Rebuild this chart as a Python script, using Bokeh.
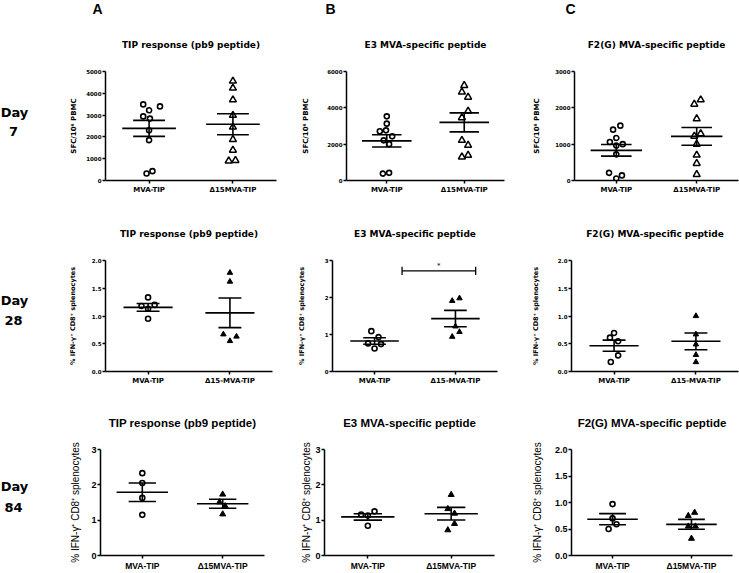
from bokeh.plotting import figure
from bokeh.models import Range1d, FixedTicker, Title, NumeralTickFormatter
from bokeh.layouts import row, column
from bokeh.embed import file_html
from bokeh.resources import INLINE
from bokeh.core.properties import value

# ---------------- data ----------------
col_letters = ["A", "B", "C"]
day_numbers = ["7", "28", "84"]
panel_titles = ["TIP response (pb9 peptide)", "E3 MVA-specific peptide", "F2(G) MVA-specific peptide"]
groups_d7 = ["MVA-TIP", "Δ15MVA-TIP"]
groups_d28 = ["MVA-TIP", "Δ15-MVA-TIP"]
groups_d84 = ["MVA-TIP", "Δ15MVA-TIP"]
ylabel_d7 = "SFC/10⁶ PBMC"
ylabel_pct = "% IFN-γ⁺ CD8⁺ splenocytes"

# Day 7 - SFC / 10^6 PBMC
d7A_mva = [3490, 3220, 3400, 2940, 2840, 2300, 1850, 320, 430]
d7A_mva_dx = [-0.07, 0.0, 0.13, -0.07, 0.01, 0.0, 0.0, -0.03, 0.04]
d7A_d15 = [4560, 4240, 3700, 2990, 2450, 1880, 1390, 900, 920]
d7A_d15_dx = [0.0, 0.0, 0.0, 0.0, 0.0, 0.0, 0.0, -0.05, 0.03]
d7A_mean = [2390, 2580]
d7A_sem = [366, 480]
d7A_yticks = [0, 1000, 2000, 3000, 4000, 5000]

d7B_mva = [3530, 3130, 2760, 2710, 2430, 2210, 2000, 380, 420]
d7B_mva_dx = [0.0, 0.0, -0.01, -0.09, 0.07, -0.04, 0.03, -0.05, 0.03]
d7B_d15 = [5230, 4870, 4590, 3820, 3460, 2210, 1940, 1300, 1390]
d7B_d15_dx = [0.0, -0.03, 0.05, 0.05, -0.03, -0.03, 0.05, -0.03, 0.05]
d7B_mean = [2180, 3200]
d7B_sem = [339, 521]
d7B_yticks = [0, 2000, 4000, 6000]

d7C_mva = [1510, 1400, 1170, 1060, 1000, 960, 720, 210, 140, 55]
d7C_mva_dx = [0.05, -0.04, 0.0, -0.08, 0.08, 0.0, 0.0, -0.09, 0.07, 0.0]
d7C_d15 = [2220, 2100, 1700, 1220, 1290, 1000, 700, 470, 165]
d7C_d15_dx = [0.05, -0.03, 0.0, -0.03, 0.05, 0.0, 0.0, 0.0, 0.0]
d7C_mean = [830, 1215]
d7C_sem = [160, 243]
d7C_yticks = [0, 1000, 2000, 3000]

# Day 28 - % IFN-g+ CD8+ splenocytes
d28A_mva = [1.335, 1.18, 1.20, 1.13, 0.95]
d28A_mva_dx = [0.0, -0.08, 0.08, 0.0, 0.0]
d28A_d15 = [1.78, 1.62, 0.67, 0.63, 0.55]
d28A_d15_dx = [0.0, 0.0, -0.08, 0.08, 0.0]
d28A_mean = [1.155, 1.057]
d28A_sem = [0.07, 0.266]
d28A_yticks = [0.0, 0.5, 1.0, 1.5, 2.0]

d28B_mva = [1.09, 0.93, 0.76, 0.74, 0.62]
d28B_mva_dx = [-0.04, 0.05, -0.08, 0.08, 0.0]
d28B_d15 = [1.91, 1.98, 1.22, 0.94, 1.07]
d28B_d15_dx = [-0.04, 0.05, 0.0, -0.04, 0.05]
d28B_mean = [0.825, 1.43]
d28B_sem = [0.089, 0.222]
d28B_yticks = [0, 1, 2, 3]
d28B_sig = "*"

d28C_mva = [0.695, 0.61, 0.545, 0.29, 0.17]
d28C_mva_dx = [0.0, -0.05, 0.05, 0.05, -0.04]
d28C_d15 = [1.0, 0.67, 0.49, 0.30, 0.17]
d28C_d15_dx = [0.0, 0.0, 0.0, 0.0, 0.0]
d28C_mean = [0.465, 0.544]
d28C_sem = [0.10, 0.151]
d28C_yticks = [0.0, 0.5, 1.0, 1.5, 2.0]

# Day 84 - % IFN-g+ CD8+ splenocytes
d84A_mva = [2.33, 2.05, 1.63, 1.15]
d84A_mva_dx = [0.0, 0.0, 0.0, 0.0]
d84A_d15 = [1.73, 1.51, 1.40, 1.17]
d84A_d15_dx = [0.0, -0.04, 0.03, 0.0]
d84A_mean = [1.79, 1.463]
d84A_sem = [0.262, 0.127]
d84A_yticks = [0, 1, 2, 3]

d84B_mva = [1.25, 1.16, 1.13, 0.84]
d84B_mva_dx = [0.08, -0.08, 0.0, 0.0]
d84B_d15 = [1.72, 1.32, 1.19, 0.90, 0.72]
d84B_d15_dx = [0.0, -0.04, 0.04, 0.04, -0.04]
d84B_mean = [1.092, 1.182]
d84B_sem = [0.09, 0.179]
d84B_yticks = [0, 1, 2, 3]

d84C_mva = [0.97, 0.70, 0.59, 0.50]
d84C_mva_dx = [0.0, 0.0, 0.05, -0.05]
d84C_d15 = [0.81, 0.75, 0.55, 0.55, 0.32]
d84C_d15_dx = [0.04, -0.04, -0.04, 0.05, 0.0]
d84C_mean = [0.685, 0.588]
d84C_sem = [0.106, 0.094]
d84C_yticks = [0.0, 0.5, 1.0, 1.5, 2.0]

# ---------------- panel table (built from the arrays) ----------------
panels = [
    [dict(g1=d7A_mva, dx1=d7A_mva_dx, g2=d7A_d15, dx2=d7A_d15_dx, mean=d7A_mean, sem=d7A_sem, yt=d7A_yticks, dec=False),
     dict(g1=d7B_mva, dx1=d7B_mva_dx, g2=d7B_d15, dx2=d7B_d15_dx, mean=d7B_mean, sem=d7B_sem, yt=d7B_yticks, dec=False),
     dict(g1=d7C_mva, dx1=d7C_mva_dx, g2=d7C_d15, dx2=d7C_d15_dx, mean=d7C_mean, sem=d7C_sem, yt=d7C_yticks, dec=False)],
    [dict(g1=d28A_mva, dx1=d28A_mva_dx, g2=d28A_d15, dx2=d28A_d15_dx, mean=d28A_mean, sem=d28A_sem, yt=d28A_yticks, dec=True),
     dict(g1=d28B_mva, dx1=d28B_mva_dx, g2=d28B_d15, dx2=d28B_d15_dx, mean=d28B_mean, sem=d28B_sem, yt=d28B_yticks, dec=False, sig=d28B_sig),
     dict(g1=d28C_mva, dx1=d28C_mva_dx, g2=d28C_d15, dx2=d28C_d15_dx, mean=d28C_mean, sem=d28C_sem, yt=d28C_yticks, dec=True)],
    [dict(g1=d84A_mva, dx1=d84A_mva_dx, g2=d84A_d15, dx2=d84A_d15_dx, mean=d84A_mean, sem=d84A_sem, yt=d84A_yticks, dec=False),
     dict(g1=d84B_mva, dx1=d84B_mva_dx, g2=d84B_d15, dx2=d84B_d15_dx, mean=d84B_mean, sem=d84B_sem, yt=d84B_yticks, dec=False),
     dict(g1=d84C_mva, dx1=d84C_mva_dx, g2=d84C_d15, dx2=d84C_d15_dx, mean=d84C_mean, sem=d84C_sem, yt=d84C_yticks, dec=True)],
]
row_groups = [groups_d7, groups_d28, groups_d84]
row_ylabels = [ylabel_d7, ylabel_pct, ylabel_pct]

# ---------------- layout & style (pixels) ----------------
DAY_W = 55
ROW_H = [205, 190, 178]
ROW_TB = [(71, 25), (55, 24), (54, 13)]        # top / bottom border of every frame in a row
# (width, left border, right border) per panel
LAYOUT = [
    [(244, 50, 23), (231, 40, 26), (209, 42, 1)],
    [(239, 50, 22), (234, 32, 31), (211, 40, 1)],
    [(239, 45, 30), (234, 30, 34), (211, 40, 7)],
]
TITLE_STANDOFF = [41, 42, 39]
LABEL_STANDOFF = [[5, 14, 11], [12, 16, 15], [7, 0, 9]]
LETTER_OFFSET = [-13, -21, -9]
DAY_TEXT_Y = [(112, 131), (95, 115), (93, 115)]
DAY_TEXT_X = (14, 13)

STY = [
    dict(font="DejaVu Sans", title="9px", ytick="5.5px", xtick="7px", ylab="7px", ylab_style="bold",
         circ=5, tri=7, tri_fill="white", mw=0.32, sw=0.19),
    dict(font="DejaVu Sans", title="9px", ytick="5.5px", xtick="7px", ylab="6.5px", ylab_style="bold",
         circ=5, tri=5.5, tri_fill="black", mw=0.30, sw=0.14),
    dict(font="Liberation Sans", title="11.5px", ytick="9px", xtick="8.5px", ylab="10px", ylab_style="normal",
         circ=5, tri=6, tri_fill="black", mw=0.32, sw=0.17),
]


def make_panel(ri, ci):
    spec = panels[ri][ci]
    w, bl, br = LAYOUT[ri][ci]
    bt, bb = ROW_TB[ri]
    s = STY[ri]
    p = figure(width=w, height=ROW_H[ri], x_range=Range1d(0.48, 2.52),
               y_range=Range1d(0, spec["yt"][-1]), title=None,
               output_backend="svg", toolbar_location=None,
               min_border_left=bl, min_border_right=br, min_border_top=bt, min_border_bottom=bb)
    p.grid.visible = False
    p.outline_line_color = None
    p.background_fill_color = "white"
    p.border_fill_color = "white"

    t = Title(text=panel_titles[ci], align="center", vertical_align="middle",
              standoff=TITLE_STANDOFF[ri], text_font=s["font"], text_font_size=s["title"],
              text_font_style="bold", text_color="black")
    p.add_layout(t, "above")
    if ri == 0:
        lt = Title(text=col_letters[ci], align="left", vertical_align="top", offset=LETTER_OFFSET[ci],
                   standoff=0, text_font="Liberation Sans", text_font_size="14px",
                   text_font_style="bold", text_color="black")
        p.add_layout(lt, "above")

    # data points
    p.scatter(x=[1 + d for d in spec["dx1"]], y=spec["g1"], marker="circle", size=s["circ"],
              line_color="black", line_width=1.6, fill_color="white")
    p.scatter(x=[2 + d for d in spec["dx2"]], y=spec["g2"], marker="triangle", size=s["tri"],
              line_color="black", line_width=1.5 if s["tri_fill"] == "white" else 1.0,
              fill_color=s["tri_fill"])

    # mean and SEM
    x0, y0, x1, y1 = [], [], [], []
    for gi, (m, e) in enumerate(zip(spec["mean"], spec["sem"])):
        c = gi + 1
        x0 += [c - s["mw"], c - s["sw"], c - s["sw"], c]
        y0 += [m, m + e, m - e, m - e]
        x1 += [c + s["mw"], c + s["sw"], c + s["sw"], c]
        y1 += [m, m + e, m - e, m + e]
    p.segment(x0=x0, y0=y0, x1=x1, y1=y1, line_color="black", line_width=1.6)

    if "sig" in spec:
        bx0, bx1, by, bc = 1.34, 2.25, 2.72, 0.11
        p.segment(x0=[bx0, bx0, bx1], y0=[by, by - bc, by - bc], x1=[bx1, bx0, bx1], y1=[by, by + bc, by + bc],
                  line_color="black", line_width=1.3)
        p.text(x=[(bx0 + bx1) / 2], y=[by + 0.02], text=[spec["sig"]], text_align="center",
               text_baseline="bottom", text_font=value(s["font"]), text_font_size="7px", text_color="black")

    # axes
    for ax in (p.xaxis[0], p.yaxis[0]):
        ax.axis_line_width = 1.5
        ax.axis_line_color = "black"
        ax.major_tick_line_width = 1.5
        ax.major_tick_line_color = "black"
        ax.major_tick_out = 3
        ax.major_tick_in = 0
        ax.minor_tick_line_color = None
        ax.major_label_text_font = s["font"]
        ax.major_label_text_font_style = "bold"
        ax.major_label_text_color = "black"
    p.xaxis.ticker = FixedTicker(ticks=[1, 2], minor_ticks=[])
    g = row_groups[ri]
    p.xaxis.major_label_overrides = {1: g[0], 2: g[1]}
    p.xaxis.major_label_text_font_size = s["xtick"]
    p.xaxis.major_label_standoff = 2
    p.yaxis.ticker = FixedTicker(ticks=spec["yt"], minor_ticks=[])
    if spec["dec"]:
        p.yaxis.formatter = NumeralTickFormatter(format="0.0")
    p.yaxis.major_label_text_font_size = s["ytick"]
    p.yaxis.major_label_standoff = 1
    p.yaxis.axis_label = row_ylabels[ri]
    p.yaxis.axis_label_text_font = s["font"]
    p.yaxis.axis_label_text_font_size = s["ylab"]
    p.yaxis.axis_label_text_font_style = s["ylab_style"]
    p.yaxis.axis_label_text_color = "black"
    p.yaxis.axis_label_standoff = LABEL_STANDOFF[ri][ci]
    return p


def make_day(ri):
    h = ROW_H[ri]
    bt, bb = ROW_TB[ri]
    # frame is aligned with the panels' frames; data units = pixels from the row top
    d = figure(width=DAY_W, height=h, x_range=Range1d(0, DAY_W), y_range=Range1d(h - bb, bt),
               x_axis_type=None, y_axis_type=None, min_border_left=0, min_border_right=0,
               min_border_top=bt, min_border_bottom=bb,
               output_backend="svg", toolbar_location=None)
    d.outline_line_color = None
    d.text(x=list(DAY_TEXT_X), y=list(DAY_TEXT_Y[ri]), text=["Day", day_numbers[ri]],
           text_align="center", text_baseline="middle", text_font=value("DejaVu Sans"),
           text_font_style="bold", text_font_size="13px", text_color="black")
    return d


rows = []
for ri in range(3):
    rows.append(row(make_day(ri), *[make_panel(ri, ci) for ci in range(3)]))
layout = column(*rows)

open("out.html", "w").write(file_html(layout, INLINE))
